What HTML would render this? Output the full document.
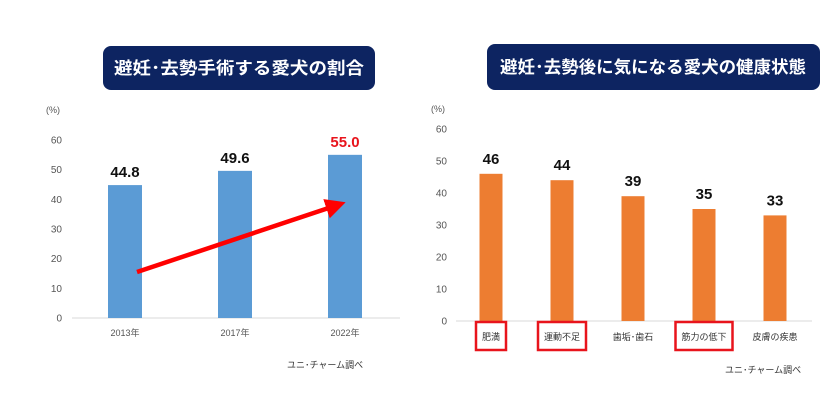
<!DOCTYPE html>
<html><head><meta charset="utf-8"><style>
body{margin:0;background:#fff;width:840px;height:403px;overflow:hidden;font-family:"Liberation Sans","Noto Sans CJK JP",sans-serif}
svg text{font-family:"Liberation Sans","Noto Sans CJK JP",sans-serif}
</style></head><body>
<svg id="s" width="840" height="403" xmlns="http://www.w3.org/2000/svg">
<defs><marker id="ah" markerWidth="4.5" markerHeight="4.5" refX="2" refY="2.25" orient="auto" markerUnits="strokeWidth"><path d="M0,0 L4.5,2.25 L0,4.5 z" fill="#ff0000"/></marker></defs>
<g><rect x="103" y="46" width="272" height="44" rx="8" fill="#0d2461"/>
<text x="239" y="74" text-anchor="middle" fill="#fff" font-size="17" font-weight="bold" textLength="250" lengthAdjust="spacingAndGlyphs">避妊･去勢手術する愛犬の割合</text></g>
<g><rect x="487" y="44" width="333" height="46" rx="8" fill="#0d2461"/>
<text x="653" y="73" text-anchor="middle" fill="#fff" font-size="17" font-weight="bold" textLength="306" lengthAdjust="spacingAndGlyphs">避妊･去勢後に気になる愛犬の健康状態</text></g>
<g id="L"></g><g id="R"></g>
<text x="287" y="368" font-size="9" fill="#333">ユニ･チャーム調べ</text>
<text x="725" y="373" font-size="9" fill="#333">ユニ･チャーム調べ</text>
</svg>
<script>
const leftCats=["2013年","2017年","2022年"];
const leftVals=[44.8,49.6,55.0];
const leftLabels=["44.8","49.6","55.0"];
const rightCats=["肥満","運動不足","歯垢･歯石","筋力の低下","皮膚の疾患"];
const rightVals=[46,44,39,35,33];
const rightHighlight=[true,true,false,true,false];
const ticks=[0,10,20,30,40,50,60];
const NS="http://www.w3.org/2000/svg";
function mk(p,t,a,txt){const e=document.createElementNS(NS,t);for(const k in a)e.setAttribute(k,a[k]);if(txt!==undefined)e.textContent=txt;p.appendChild(e);return e;}
// left
const L=document.getElementById('L');
const ly=v=>318-v*178/60, lx=i=>125+i*110;
mk(L,'text',{x:46,y:113,'font-size':9,fill:'#555'},'(%)');
ticks.forEach(t=>{const e=mk(L,'text',{x:62,y:ly(t)+3.5,'font-size':10,fill:'#555','text-anchor':'end'},t);

});
mk(L,'line',{x1:72,x2:400,y1:318,y2:318,stroke:'#d9d9d9'});
leftVals.forEach((v,i)=>{
const b=mk(L,'rect',{x:lx(i)-17,y:ly(v),width:34,height:318-ly(v),fill:'#5b9bd5'});


const t=mk(L,'text',{x:lx(i),y:ly(v)-8,'font-size':15,'font-weight':'bold','text-anchor':'middle',fill:i==2?'#e8141c':'#111'},leftLabels[i]);


const c=mk(L,'text',{x:lx(i),y:336,'font-size':9,'text-anchor':'middle',fill:'#555'},leftCats[i]);

});
const ar=mk(L,'line',{x1:lx(0)+12,y1:ly(15.5),x2:lx(2)-10,y2:ly(37.8),stroke:'#ff0000','stroke-width':4.5,'marker-end':'url(#ah)'});


// right
const R=document.getElementById('R');
const ry=v=>321-v*192/60, rx=i=>491+i*71;
mk(R,'text',{x:431,y:112,'font-size':9,fill:'#555'},'(%)');
ticks.forEach(t=>{const e=mk(R,'text',{x:447,y:ry(t)+3.5,'font-size':10,fill:'#555','text-anchor':'end'},t);

});
mk(R,'line',{x1:456,x2:812,y1:321,y2:321,stroke:'#d9d9d9'});
rightVals.forEach((v,i)=>{
const b=mk(R,'rect',{x:rx(i)-11.5,y:ry(v),width:23,height:321-ry(v),fill:'#ed7d31'});


const t=mk(R,'text',{x:rx(i),y:ry(v)-10,'font-size':15,'font-weight':'bold','text-anchor':'middle',fill:'#111'},v);


const c=mk(R,'text',{x:rx(i),y:340,'font-size':9,'text-anchor':'middle',fill:'#333'},rightCats[i]);


if(rightHighlight[i]){const w=rightCats[i].length*9+12;
const h=mk(R,'rect',{x:rx(i)-w/2,y:322,width:w,height:28,fill:'none',stroke:'#e8141c','stroke-width':2.5});

}
});
</script>
</body></html>
